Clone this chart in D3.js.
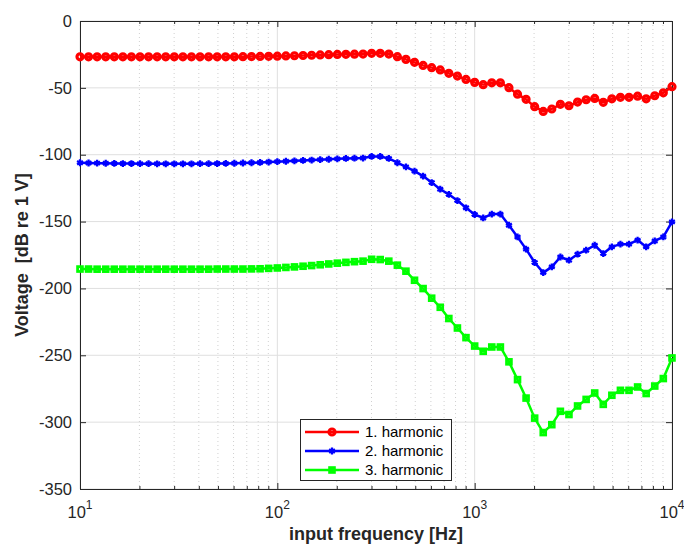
<!DOCTYPE html>
<html lang="en">
<head>
<meta charset="UTF-8">
<title>Harmonics</title>
<script src="https://cdn.jsdelivr.net/npm/d3@7"></script>
<style>
    body{ margin:0; background:#fff; }
    svg{ display:block; font-family:"Liberation Sans", Arial, sans-serif; }
    .axis text{ font-size:16.5px; fill:#262626; }
    .axis path, .axis line{ stroke:#262626; }
    .title{ font-weight:bold; font-size:18px; fill:#262626; }
    .legend text{ font-size:15px; fill:#000; }
</style>
</head>
<body>
<svg id="main" width="684" height="546"></svg>
<script>
// input frequencies [Hz]
const freq = [10, 11.05, 12.21, 13.5, 14.92, 16.49, 18.22, 20.14, 22.26, 24.6, 27.19, 30.05, 33.22, 36.72, 40.58, 44.85, 49.57, 54.79, 60.56, 66.93, 73.98, 81.77, 90.37,
    100, 110.5, 122.1, 135, 149.2, 164.9, 182.2, 201.4, 222.6, 246, 271.9, 300.5, 332.2, 367.2, 405.8, 448.5, 495.7, 547.9, 605.6, 669.3, 739.8, 817.7, 903.7,
    1000, 1105, 1221, 1350, 1492, 1649, 1822, 2014, 2226, 2460, 2719, 3005, 3322, 3672, 4058, 4485, 4957, 5479, 6056, 6693, 7398, 8177, 9037, 10000];

const harm1 = [-26.8, -26.8, -26.8, -26.8, -26.8, -26.8, -26.8, -26.8, -26.8, -26.8, -26.8, -26.8, -26.8, -26.8, -26.8, -26.8, -26.8, -26.8, -26.8,
    -26.7, -26.6, -26.5, -26.4, -26.3, -26.1, -26.0, -25.8, -25.6, -25.4, -25.2, -25.0, -24.9, -24.8,
    -24.7, -24.2, -24.2, -24.7, -26.7, -28.7, -30.9, -33.2, -34.9, -36.6, -39.1, -41.2, -43.7, -45.9, -47.6, -46.2, -46.2, -49.9,
    -54.7, -58.6, -64.1, -67.6, -65.8, -62.3, -63.4, -60.6, -58.9, -57.9, -60.8, -58.2, -57.1, -57.1, -56.2, -58.2, -55.9, -53.7, -49.1];

const harm2 = [-106.0, -106.2, -106.3, -106.4, -106.5, -106.6, -106.6, -106.7, -106.7, -106.8, -106.8, -106.8, -106.8, -106.8, -106.7, -106.7, -106.6,
    -106.5, -106.4, -106.2, -106.0, -105.8, -105.5, -105.2, -104.9, -104.6, -104.3, -104.0, -103.7, -103.4, -103.1, -102.8, -102.6,
    -102.5, -101.3, -101.3, -102.8, -106.0, -109.1, -112.3, -116.0, -120.8, -125.8, -129.7, -134.3, -139.7, -144.7, -147.3, -144.4, -144.4, -152.7,
    -161.5, -170.6, -180.6, -188.2, -183.9, -176.5, -178.9, -174.4, -171.4, -167.7, -173.9, -168.9, -166.9, -166.9, -163.9, -168.9, -164.5, -161.5, -150.2];

const harm3 = [-185.5, -185.5, -185.6, -185.6, -185.6, -185.6, -185.6, -185.6, -185.6, -185.6, -185.6, -185.6, -185.6, -185.6, -185.6, -185.6, -185.5,
    -185.5, -185.5, -185.5, -185.4, -185.3, -185.0, -184.7, -184.3, -183.9, -183.4, -182.9, -182.3, -181.7, -181.1, -180.5, -180.0,
    -179.6, -178.2, -178.4, -179.6, -182.6, -187.1, -193.9, -200.1, -207.3, -214.1, -222.5, -229.6, -236.8, -243.1, -247.0, -243.8, -243.8, -254.9,
    -268.2, -282.0, -297.0, -307.8, -301.9, -291.9, -294.3, -287.9, -283.0, -278.2, -286.7, -279.9, -276.2, -276.2, -273.7, -278.6, -273.0, -267.4, -252.0];

const seriesNames = ["1. harmonic", "2. harmonic", "3. harmonic"];
const seriesColors = ["#ff0000", "#0000ff", "#00ff00"];
const seriesMarkers = ["circle", "star", "square"];
const yTicks = [0, -50, -100, -150, -200, -250, -300, -350];
const xDecades = [10, 100, 1000, 10000];
const xExponents = ["1", "2", "3", "4"];

const W = 684, H = 546;
const m = {left: 80, right: 12, top: 21, bottom: 57};
const svg = d3.select("#main");

const x = d3.scaleLog().domain([10, 10000]).range([m.left, W - m.right]);
const y = d3.scaleLinear().domain([-350, 0]).range([H - m.bottom, m.top]);

const minorX = [];
xDecades.slice(0, 3).forEach(d => { for (let k = 2; k <= 9; k++) minorX.push(d * k); });

// grid
const grid = svg.append("g");
grid.selectAll(".gy").data(yTicks).enter().append("line")
    .attr("x1", x(10)).attr("x2", x(10000))
    .attr("y1", d => y(d)).attr("y2", d => y(d))
    .attr("stroke", "#dfdfdf").attr("stroke-width", 1);
grid.selectAll(".gx").data(xDecades).enter().append("line")
    .attr("x1", d => x(d)).attr("x2", d => x(d))
    .attr("y1", y(0)).attr("y2", y(-350))
    .attr("stroke", "#dfdfdf").attr("stroke-width", 1);
grid.selectAll(".gxm").data(minorX).enter().append("line")
    .attr("x1", d => x(d)).attr("x2", d => x(d))
    .attr("y1", y(0)).attr("y2", y(-350))
    .attr("stroke", "#d0d0d0").attr("stroke-width", 1).attr("stroke-dasharray", "1,3");

// axes (ticks pointing inside)
svg.append("g").attr("class", "axis")
    .attr("transform", `translate(0,${y(-350)})`)
    .call(d3.axisBottom(x).tickValues(xDecades).tickSizeInner(-6).tickSizeOuter(0).tickFormat(""));
svg.append("g").attr("class", "axis")
    .attr("transform", `translate(0,${y(-350)})`)
    .call(d3.axisBottom(x).tickValues(minorX).tickSizeInner(-3).tickSizeOuter(0).tickFormat(""));
svg.append("g").attr("class", "axis")
    .attr("transform", `translate(0,${y(0)})`)
    .call(d3.axisTop(x).tickValues(xDecades).tickSizeInner(-6).tickSizeOuter(0).tickFormat(""));
svg.append("g").attr("class", "axis")
    .attr("transform", `translate(0,${y(0)})`)
    .call(d3.axisTop(x).tickValues(minorX).tickSizeInner(-3).tickSizeOuter(0).tickFormat(""));
svg.append("g").attr("class", "axis")
    .attr("transform", `translate(${x(10)},0)`)
    .call(d3.axisLeft(y).tickValues(yTicks).tickSizeInner(-6).tickSizeOuter(0).tickPadding(8)
        .tickFormat(d => String(d)));
svg.append("g").attr("class", "axis")
    .attr("transform", `translate(${x(10000)},0)`)
    .call(d3.axisRight(y).tickValues(yTicks).tickSizeInner(-6).tickSizeOuter(0).tickFormat(""));

// x tick labels with exponents
const xl = svg.append("g").attr("class", "axis");
xDecades.forEach((d, i) => {
    const t = xl.append("text").attr("x", x(d)).attr("y", 518).attr("text-anchor", "middle");
    t.append("tspan").text("10");
    t.append("tspan").attr("dy", -9).style("font-size", "12px").text(xExponents[i]);
});

svg.append("text").attr("class", "title")
    .attr("x", (x(10) + x(10000)) / 2).attr("y", 540)
    .attr("text-anchor", "middle").text("input frequency [Hz]");
svg.append("text").attr("class", "title")
    .attr("transform", `translate(28,${(y(0) + y(-350)) / 2}) rotate(-90)`)
    .attr("text-anchor", "middle").attr("xml:space", "preserve").text("Voltage  [dB re 1 V]");

// markers
function marker(g, type, color) {
    if (type === "circle") {
        g.append("circle").attr("r", 3.0).attr("fill", "none")
            .attr("stroke", color).attr("stroke-width", 3.2);
    } else if (type === "square") {
        g.append("rect").attr("x", -2.4).attr("y", -2.4).attr("width", 4.8).attr("height", 4.8)
            .attr("fill", "none").attr("stroke", color).attr("stroke-width", 2.8);
    } else {
        const r = 3.4, a = r * Math.sqrt(3) / 2;
        g.append("path")
            .attr("d", `M0,${-r}L0,${r}M${-a},${-r / 2}L${a},${r / 2}M${-a},${r / 2}L${a},${-r / 2}`)
            .attr("stroke", color).attr("stroke-width", 2.3);
    }
}

const line = d3.line().x(d => x(d[0])).y(d => y(d[1]));
[harm1, harm2, harm3].forEach((vals, s) => {
    const pts = freq.map((f, i) => [f, vals[i]]);
    const g = svg.append("g");
    g.append("path").datum(pts).attr("d", line)
        .attr("fill", "none").attr("stroke", seriesColors[s]).attr("stroke-width", 2.5)
        .attr("stroke-linejoin", "round");
    g.selectAll(".mk").data(pts).enter().append("g")
        .attr("transform", d => `translate(${x(d[0])},${y(d[1])})`)
        .each(function() { marker(d3.select(this), seriesMarkers[s], seriesColors[s]); });
});

// legend
const lg = svg.append("g").attr("class", "legend");
lg.append("rect").attr("x", 300.5).attr("y", 419.5).attr("width", 151).attr("height", 61)
    .attr("fill", "#fff").attr("stroke", "#262626").attr("stroke-width", 1);
seriesNames.forEach((n, s) => {
    const ly = 432 + s * 19;
    lg.append("line").attr("x1", 305).attr("x2", 359).attr("y1", ly).attr("y2", ly)
        .attr("stroke", seriesColors[s]).attr("stroke-width", 2.5);
    const mg = lg.append("g").attr("transform", `translate(332,${ly})`);
    marker(mg, seriesMarkers[s], seriesColors[s]);
    lg.append("text").attr("x", 365).attr("y", ly).attr("dy", "0.35em").text(n);
});
</script>
</body>
</html>
